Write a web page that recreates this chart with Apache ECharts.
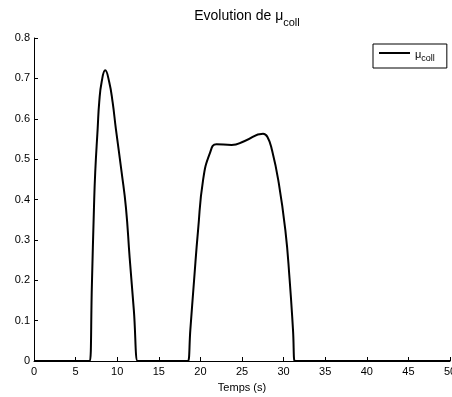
<!DOCTYPE html>
<html>
<head>
<meta charset="utf-8">
<script src="https://cdn.jsdelivr.net/npm/echarts@6/dist/echarts.min.js"></script>
<style>
html,body{margin:0;padding:0;background:#fff;}
#chart{width:452px;height:397px;}
</style>
</head>
<body>
<div id="chart"></div>
<script>
var timeValues = [0, 6.6, 6.72, 6.96, 7.2, 7.36, 7.65, 7.84, 8.13, 8.56, 9.04, 9.45, 9.84, 10.53, 11.05, 11.5, 12.0, 12.45, 12.6,
  18.4, 18.52, 18.79, 19.24, 19.72, 20.32, 21.13, 21.93, 23.75, 25.33, 27.53, 28.06, 28.61, 29.36, 30.21, 30.73, 31.13, 31.33, 31.45, 50];
var muValues = [0, 0, 0, 0.19, 0.374, 0.468, 0.575, 0.641, 0.691, 0.720, 0.691, 0.641, 0.575, 0.468, 0.38, 0.255, 0.126, 0, 0,
  0, 0, 0.077, 0.2, 0.324, 0.448, 0.514, 0.537, 0.535, 0.545, 0.563, 0.555, 0.522, 0.448, 0.324, 0.2, 0.077, 0, 0, 0];
var xTicks = [0, 5, 10, 15, 20, 25, 30, 35, 40, 45, 50];
var yTicks = [0, 0.1, 0.2, 0.3, 0.4, 0.5, 0.6, 0.7, 0.8];

var data = timeValues.map(function (t, i) { return [t, muValues[i]]; });
var font = 'Liberation Sans, Arial, Helvetica, sans-serif';

var chart = echarts.init(document.getElementById('chart'), null, {renderer: 'canvas'});
chart.setOption({
  animation: false,
  backgroundColor: '#fff',
  title: {
    text: '{a|Evolution de μ}{b|coll}',
    left: 242,
    textAlign: 'center',
    top: 0,
    textStyle: {
      fontWeight: 'normal',
      rich: {
        a: {fontFamily: font, fontSize: 14, fontWeight: 'normal', color: '#000', verticalAlign: 'bottom', lineHeight: 18},
        b: {fontFamily: font, fontSize: 11, fontWeight: 'normal', color: '#000', verticalAlign: 'bottom', lineHeight: 18, padding: [0, 0, -5, 0]}
      }
    }
  },
  legend: {
    left: 373,
    top: 44,
    orient: 'vertical',
    padding: [5, 12, 5, 6],
    itemWidth: 31,
    itemHeight: 14,
    itemGap: 3,
    icon: 'path://M0,6H31V8H0Z',
    itemStyle: {color: '#000', borderWidth: 0},
    borderColor: '#000',
    borderWidth: 1,
    borderRadius: 0,
    backgroundColor: '#fff',
    formatter: function () { return '{a|μ}{b|coll}'; },
    textStyle: {
      rich: {
        a: {fontFamily: font, fontSize: 11, color: '#000', verticalAlign: 'bottom', lineHeight: 14},
        b: {fontFamily: font, fontSize: 9, color: '#000', verticalAlign: 'bottom', lineHeight: 14, padding: [0, 0, -3, 0]}
      }
    },
    data: ['mu']
  },
  grid: {left: 34, right: 2, top: 38, bottom: 36, containLabel: false, outerBoundsMode: 'none'},
  xAxis: {
    type: 'value',
    min: xTicks[0],
    max: xTicks[xTicks.length - 1],
    interval: xTicks[1] - xTicks[0],
    name: 'Temps (s)',
    nameLocation: 'middle',
    nameGap: 21,
    nameTextStyle: {fontFamily: font, fontSize: 11, color: '#000'},
    axisLine: {show: true, onZero: false, lineStyle: {color: '#000', width: 1}},
    axisTick: {show: true, inside: true, length: 4, lineStyle: {color: '#000'}},
    axisLabel: {fontFamily: font, fontSize: 11, color: '#000', margin: 5, hideOverlap: false},
    splitLine: {show: false}
  },
  yAxis: {
    type: 'value',
    min: yTicks[0],
    max: yTicks[yTicks.length - 1],
    interval: 0.1,
    axisLine: {show: true, onZero: false, lineStyle: {color: '#000', width: 1}},
    axisTick: {show: true, inside: true, length: 4, lineStyle: {color: '#000'}},
    axisLabel: {fontFamily: font, fontSize: 11, color: '#000', margin: 4,
      formatter: function (v) { return String(Math.round(v * 10) / 10); }},
    splitLine: {show: false}
  },
  series: [{
    name: 'mu',
    type: 'line',
    data: data,
    symbol: 'none',
    showSymbol: false,
    smooth: 0.5,
    lineStyle: {color: '#000', width: 2},
    itemStyle: {color: '#000'}
  }]
});
</script>
</body>
</html>
